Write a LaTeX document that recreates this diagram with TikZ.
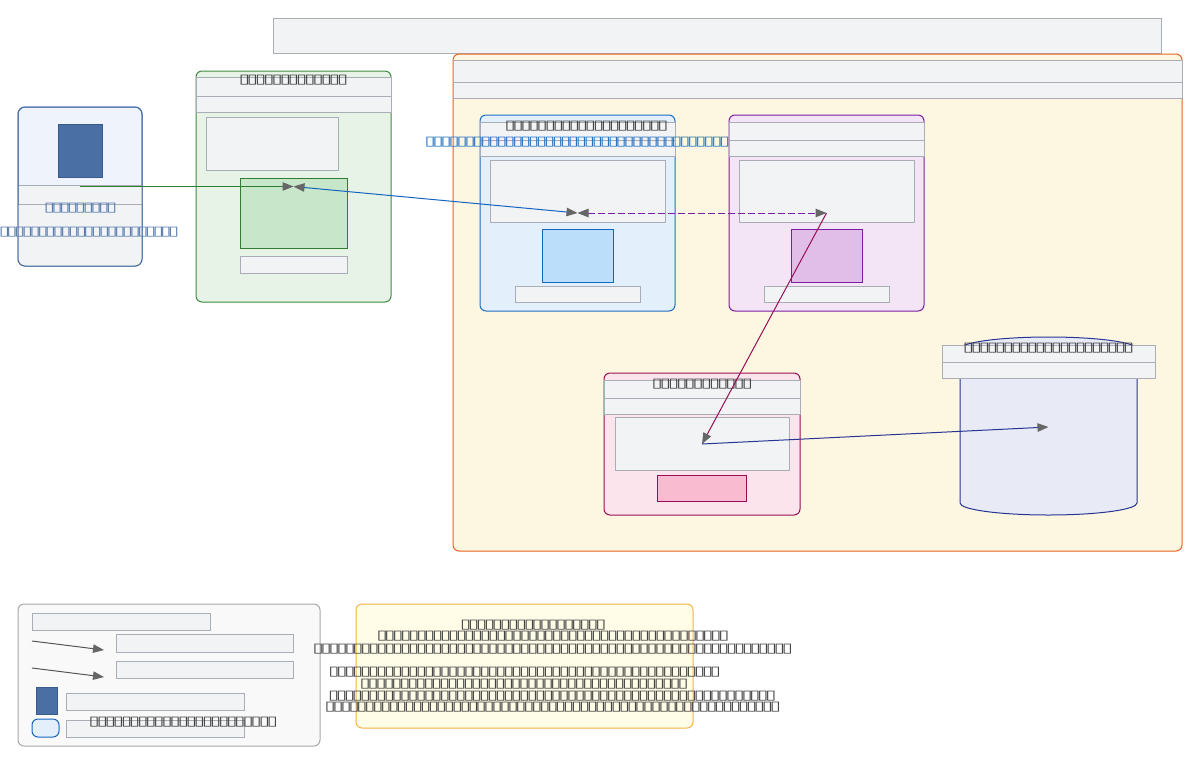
\documentclass[tikz,border=0pt]{standalone}
\usepackage{fontspec}
\usepackage{graphicx}
\newfontfamily\tofufont{DejaVu Sans}
\usetikzlibrary{arrows.meta}
\definecolor{gfill}{HTML}{F2F3F5}
\definecolor{gstroke}{HTML}{A9ADB5}
\definecolor{orstroke}{HTML}{E8641E}
\definecolor{orfill}{HTML}{FDF7E1}
\definecolor{clfill}{HTML}{EEF3FC}
\definecolor{clstroke}{HTML}{4A6FA5}
\definecolor{sqfill}{HTML}{4A6FA5}
\definecolor{sqstroke}{HTML}{3B5A8C}
\definecolor{grfill}{HTML}{E8F3E8}
\definecolor{grstroke}{HTML}{3D8B40}
\definecolor{grin}{HTML}{C8E6C9}
\definecolor{grline}{HTML}{2E7D32}
\definecolor{blfill}{HTML}{E3F0FC}
\definecolor{blstroke}{HTML}{1E6EC0}
\definecolor{blin}{HTML}{BBDEFB}
\definecolor{blline}{HTML}{1565C0}
\definecolor{pufill}{HTML}{F3E5F5}
\definecolor{pustroke}{HTML}{7B1FA2}
\definecolor{puin}{HTML}{E1BEE7}
\definecolor{pkfill}{HTML}{FCE4EC}
\definecolor{pkstroke}{HTML}{960F55}
\definecolor{pkin}{HTML}{F8BBD0}
\definecolor{cyfill}{HTML}{E8EAF6}
\definecolor{cystroke}{HTML}{283593}
\definecolor{lgfill}{HTML}{F9F9F9}
\definecolor{lgstroke}{HTML}{A8A8A8}
\definecolor{ntfill}{HTML}{FFFDE7}
\definecolor{ntstroke}{HTML}{F5B342}
\definecolor{agray}{HTML}{666666}
\definecolor{txt}{HTML}{444444}
\definecolor{cltxt}{HTML}{5A7DB0}
\definecolor{bltxt}{HTML}{2A74C4}
\definecolor{legline}{HTML}{555555}
\newcount\tofuc
\newcommand\tofus[2]{\begingroup\tofufont\fontsize{13}{15}\selectfont\tofuc=#1\relax
  \loop\makebox[#2pt]{\scalebox{1.55}[1]{\char"25AF}}\advance\tofuc by -1\relax\ifnum\tofuc>0 \repeat\endgroup}
\newcommand\bx[6]{\node[#2, anchor=north west, inner sep=0pt, outer sep=0pt,
  minimum width={(#5-#3)*1pt}, minimum height={(#6-#4)*1pt}] (#1) at (#3,#4) {};}
\tikzset{
  gb/.style={draw=gstroke, fill=gfill, line width=1pt},
  orbox/.style={draw=orstroke, fill=orfill, line width=1pt, rounded corners=6pt},
  clbox/.style={draw=clstroke, fill=clfill, line width=1pt, rounded corners=7pt},
  sqbox/.style={draw=sqstroke, fill=sqfill, line width=1pt},
  grbox/.style={draw=grstroke, fill=grfill, line width=1pt, rounded corners=6pt},
  grinner/.style={draw=grline, fill=grin, line width=1pt},
  blbox/.style={draw=blstroke, fill=blfill, line width=1pt, rounded corners=6pt},
  blinner/.style={draw=blline, fill=blin, line width=1pt},
  pubox/.style={draw=pustroke, fill=pufill, line width=1pt, rounded corners=6pt},
  puinner/.style={draw=pustroke, fill=puin, line width=1pt},
  pkbox/.style={draw=pkstroke, fill=pkfill, line width=1pt, rounded corners=6pt},
  pkinner/.style={draw=pkstroke, fill=pkin, line width=1pt},
  lgbox/.style={draw=lgstroke, fill=lgfill, line width=1pt, rounded corners=6pt},
  lgpill/.style={draw=blline, fill=blfill, line width=1pt, rounded corners=6pt},
  ntbox/.style={draw=ntstroke, fill=ntfill, line width=1pt, rounded corners=6pt},
  lbl/.style={inner sep=0pt, outer sep=0pt, anchor=center, text height=7.6pt, text depth=0pt},
  ahead/.tip={Triangle[length=11pt,width=8.5pt,color=agray]},
  conn/.style={line width=1pt, -ahead},
  biconn/.style={line width=1pt, ahead-ahead},
}
\begin{document}
\begin{tikzpicture}[x=1pt,y=-1pt]
\useasboundingbox[fill=white] (0,0) rectangle (1200,764);
% top banner
\bx{banner}{gb}{273}{18}{1161}{53}
% big orange container
\bx{cloud}{orbox}{453}{54}{1182}{551}
\bx{cloudband1}{gb}{453}{60}{1182}{82}
\bx{cloudband2}{gb}{453}{82}{1182}{98}
% client
\bx{client}{clbox}{18}{107}{142}{266}
\begin{scope}
\clip[rounded corners=7pt] (18,107) rectangle (142,266);
\fill[gfill] (18,204) rectangle (142,266);
\end{scope}
\bx{clientband}{gb}{18}{185}{142}{204}
\draw[clstroke, line width=1pt, rounded corners=7pt] (client.north west) rectangle (client.south east);
\bx{clientsq}{sqbox}{58}{124}{102}{177}
\node[lbl, text=cltxt] (cllab1) at (80.5,208) {\tofus{9}{7.8}};
\node[lbl, text=cltxt] (cllab2) at (89,231.7) {\tofus{23}{7.7}};
% green
\bx{green}{grbox}{196}{71}{391}{302}
\bx{greenband1}{gb}{196}{77.5}{391}{96}
\bx{greenband2}{gb}{196}{96}{391}{112}
\bx{green1}{gb}{206}{117}{338}{170}
\bx{green2}{grinner}{240}{178}{347}{248}
\bx{green3}{gb}{240}{256}{347}{273}
\node[lbl, text=txt] (grlab) at (293.5,80) {\tofus{13}{8.2}};
% blue
\bx{blue}{blbox}{480}{115}{675}{311}
\bx{blueband1}{gb}{480}{122.5}{675}{140}
\bx{blueband2}{gb}{480}{140}{675}{156}
\bx{blue1}{gb}{490}{160}{665}{222}
\bx{blue2}{blinner}{542}{229}{613}{282}
\bx{blue3}{gb}{515}{286}{640}{302}
\node[lbl, text=txt] (bllab1) at (586.5,125.7) {\tofus{20}{8.04}};
\node[lbl, text=bltxt] (bllab2) at (577.5,141.7) {\tofus{38}{7.96}};
% purple
\bx{purple}{pubox}{729}{115}{924}{311}
\bx{purpleband1}{gb}{729}{122.5}{924}{140}
\bx{purpleband2}{gb}{729}{140}{924}{156}
\bx{purple1}{gb}{739}{160}{914}{222}
\bx{purple2}{puinner}{791}{229}{862}{282}
\bx{purple3}{gb}{764}{286}{889}{302}
% pink
\bx{pink}{pkbox}{604}{373}{800}{515}
\bx{pinkband1}{gb}{604}{380}{800}{398}
\bx{pinkband2}{gb}{604}{398}{800}{414}
\bx{pink1}{gb}{615}{417}{789}{470}
\bx{pink2}{pkinner}{657}{475}{746}{501}
\node[lbl, text=txt] (pklab) at (702.3,383.3) {\tofus{12}{8.2}};
% cylinder
\filldraw[fill=cyfill, draw=cystroke, line width=1pt]
  (960,349) .. controls (960,342.4) and (999.6,337) .. (1048.5,337)
  .. controls (1097.4,337) and (1137,342.4) .. (1137,349)
  -- (1137,503) .. controls (1137,509.6) and (1097.4,515) .. (1048.5,515)
  .. controls (999.6,515) and (960,509.6) .. (960,503) -- cycle;
\coordinate (store) at (1048.5,427);
\bx{storeband1}{gb}{942}{345}{1155}{362}
\bx{storeband2}{gb}{942}{362}{1155}{378}
\node[lbl, text=txt] (cylab) at (1048.5,348) {\tofus{21}{8.02}};
% legend
\bx{legend}{lgbox}{18}{604}{320}{746}
\bx{leg1}{gb}{32}{613}{210}{630}
\bx{leg2}{gb}{116}{634}{293}{652}
\bx{leg3}{gb}{116}{661}{293}{678}
\bx{leg4}{sqbox}{36}{687}{57.5}{714}
\bx{leg5}{gb}{66}{693}{244}{710}
\bx{leg6}{lgpill}{32}{719}{59}{737}
\bx{leg7}{gb}{66}{720}{244}{737}
\coordinate (la1s) at (32,641);
\coordinate (la1e) at (104,650);
\coordinate (la2s) at (32,668);
\coordinate (la2e) at (104,677);
\draw[conn, legline] (la1s) -- (la1e);
\draw[conn, legline] (la2s) -- (la2e);
\node[lbl, text=txt] (lglab) at (183.3,722) {\tofus{23}{8.1}};
% note
\bx{note}{ntbox}{356}{604}{693}{728}
\node[lbl, text=txt] (nt1) at (533.3,624.3) {\tofus{18}{7.95}};
\node[lbl, text=txt] (nt2) at (553,636) {\tofus{44}{7.95}};
\node[lbl, text=txt] (nt3) at (552.8,648.3) {\tofus{60}{7.95}};
\node[lbl, text=txt] (nt5) at (524.7,671.3) {\tofus{49}{7.95}};
\node[lbl, text=txt] (nt6) at (524.2,683.3) {\tofus{41}{7.95}};
\node[lbl, text=txt] (nt7) at (552.3,695.2) {\tofus{56}{7.95}};
\node[lbl, text=txt] (nt8) at (552.8,707) {\tofus{57}{7.95}};
% connectors
\draw[conn, grline] (client.center) -- (green.center);
\draw[biconn, blline] (green.center) -- (blue.center);
\draw[biconn, pustroke, dash pattern=on 7pt off 3pt] (blue.center) -- (purple.center);
\draw[conn, pkstroke] (purple.center) -- (pink.center);
\draw[conn, cystroke] (pink.center) -- (store);
\end{tikzpicture}
\end{document}
